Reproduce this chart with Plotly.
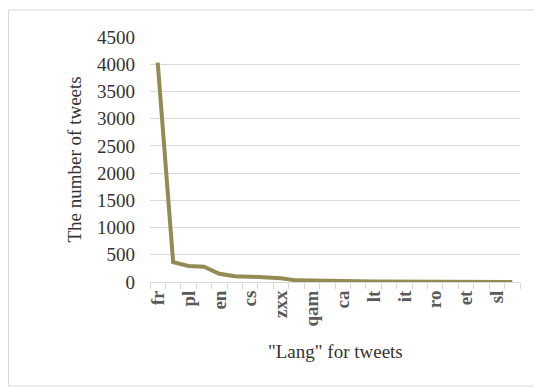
import plotly.graph_objects as go

# Language codes in rank order (every other code is shown on the axis)
langs = ["fr", "es", "pl", "de", "en", "und", "cs", "nl", "zxx", "pt", "qam", "ar",
         "ca", "in", "lt", "ht", "it", "tl", "ro", "eu", "et", "da", "sl", "fi"]
tweets = [4030, 366, 293, 280, 150, 104, 98, 86, 67, 30, 22, 17,
          14, 12, 10, 9, 8, 7, 6, 5, 4, 3, 2, 1]
y_ticks = [0, 500, 1000, 1500, 2000, 2500, 3000, 3500, 4000, 4500]

# page body adds an 8px margin; size the figure so it fits the window
OFF = 8
W, H = 542 - OFF, 387 - OFF
L, T = 150 - OFF, 37 - OFF
plot_right, plot_bottom = 520 - OFF, 282 - OFF
R, B = W - plot_right, H - plot_bottom
pw, ph = W - L - R, H - T - B

idx = list(range(len(langs)))
FONT = "Liberation Serif"
GRID = "#D9D9D9"

fig = go.Figure()
fig.add_trace(go.Scatter(
    x=idx, y=tweets, mode="lines",
    line=dict(color="#948A54", width=4),
    hoverinfo="skip", showlegend=False,
))


def px_x(v):  # reference screen pixel -> paper
    return (v - OFF - L) / pw


def px_y(v):
    return (plot_bottom - (v - OFF)) / ph


fig.update_layout(
    width=W, height=H,
    margin=dict(l=L, r=R, t=T, b=B, pad=0),
    paper_bgcolor="white", plot_bgcolor="white",
    font=dict(family=FONT, size=19, color="#404040"),
    xaxis=dict(
        range=[-0.5, len(langs) - 0.5],
        tickmode="array",
        tickvals=idx[::2],
        ticktext=["<b>%s</b>" % s for s in langs[::2]],
        tickangle=-90,
        tickfont=dict(family=FONT, size=19, color="#595959"),
        ticks="",
        showgrid=False,
        zeroline=False,
        showline=True, linecolor=GRID, linewidth=1,
        minor=dict(tickmode="array",
                   tickvals=[i - 0.5 for i in range(len(langs) + 1)],
                   ticks="outside", ticklen=6, tickcolor=GRID, tickwidth=1,
                   showgrid=False),
        fixedrange=True,
    ),
    yaxis=dict(
        range=[0, 4500],
        tickmode="array", tickvals=y_ticks,
        ticktext=[str(v) for v in y_ticks],
        tickfont=dict(family=FONT, size=19, color="#333333"),
        showgrid=True, gridcolor=GRID, gridwidth=1,
        zeroline=False, showline=False,
        ticks="", ticklabelstandoff=14,
        fixedrange=True,
    ),
    shapes=[dict(type="rect", xref="paper", yref="paper",
                 x0=px_x(8.5), x1=px_x(541), y0=px_y(386), y1=px_y(10),
                 line=dict(color=GRID, width=1), fillcolor="rgba(0,0,0,0)",
                 layer="below")],
    annotations=[
        dict(text='"Lang" for tweets', xref="paper", yref="paper",
             x=0.5, y=px_y(351), xanchor="center", yanchor="middle",
             showarrow=False, font=dict(family=FONT, size=19, color="#333333")),
        dict(text="The number of tweets", xref="paper", yref="paper",
             x=px_x(74), y=0.5, xanchor="center", yanchor="middle",
             textangle=-90, showarrow=False,
             font=dict(family=FONT, size=19, color="#333333")),
    ],
)

fig.write_html("out.html")
